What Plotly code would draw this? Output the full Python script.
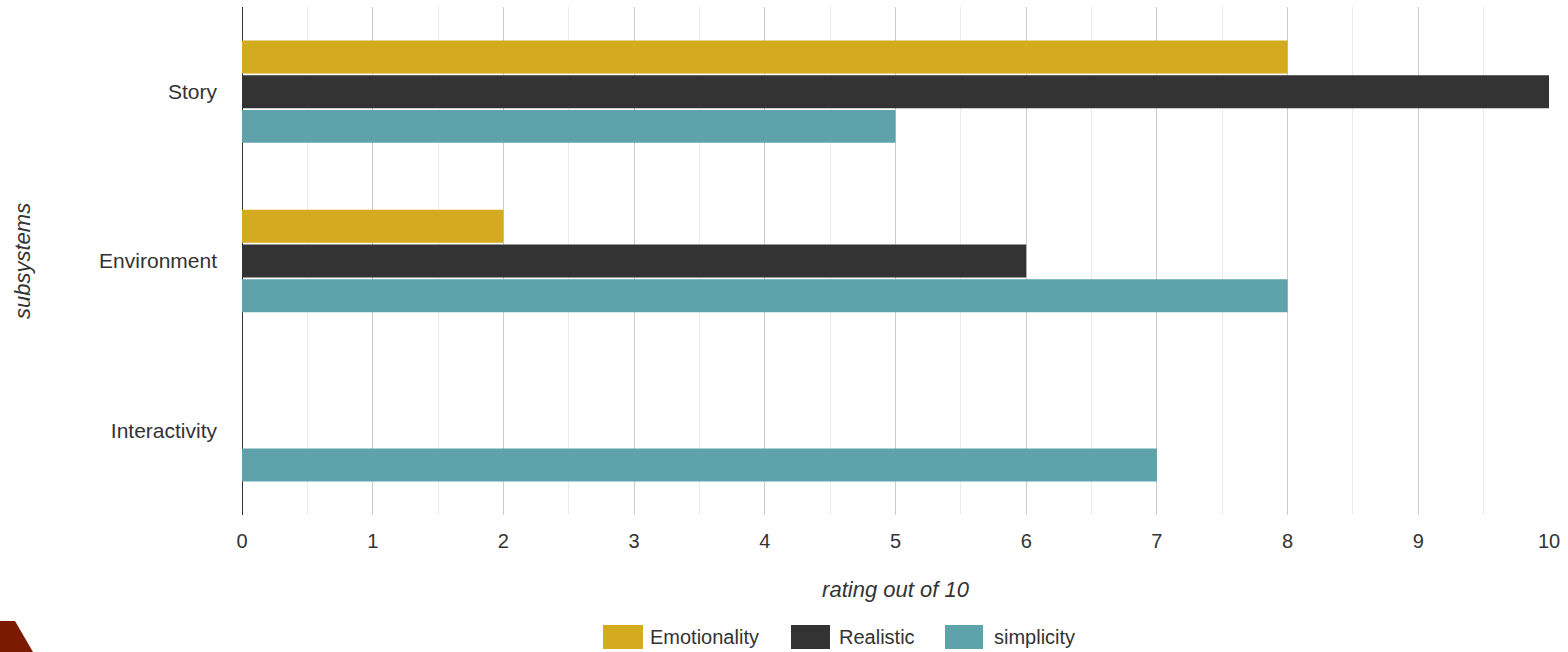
import plotly.graph_objects as go

categories = ["Story", "Environment", "Interactivity"]
emotionality = [8, 2, 0]
realistic = [10, 6, 0]
simplicity = [5, 8, 7]
series_names = ["Emotionality", "Realistic", "simplicity"]
colors = ["#D4AA1E", "#333333", "#5EA3AB"]
x_ticks = list(range(0, 11))

W, H = 1568, 652
L, R, T, B = 242, 19, 7, 137
PW, PH = W - L - R, H - T - B

def px(x):
    return (x - L) / PW

def py(y):
    return (H - B - y) / PH

FONT = "Liberation Sans, Arial, sans-serif"
TXT = "#333333"

fig = go.Figure()
for name, vals, col in zip(series_names, [emotionality, realistic, simplicity], colors):
    fig.add_trace(go.Bar(
        y=categories, x=vals, name=name, orientation="h",
        marker=dict(color=col, line=dict(width=0)), showlegend=False,
    ))

fig.update_layout(
    width=W, height=H,
    margin=dict(l=L, r=R, t=T, b=B),
    paper_bgcolor="white", plot_bgcolor="white",
    barmode="group", bargap=0.385, bargroupgap=0.05,
    font=dict(family=FONT, size=21, color=TXT),
    xaxis=dict(
        range=[0, 10], tickvals=x_ticks, ticktext=[str(t) for t in x_ticks],
        showgrid=True, gridcolor="#CCCCCC", gridwidth=1,
        minor=dict(dtick=0.5, showgrid=True, gridcolor="#EBEBEB", gridwidth=1),
        zeroline=True, zerolinecolor="#333333", zerolinewidth=1,
        ticks="", ticklabelstandoff=12,
        tickfont=dict(size=20, color=TXT),
        title=dict(text="<i>rating out of 10</i>", font=dict(size=22, color=TXT), standoff=30),
        fixedrange=True,
    ),
    yaxis=dict(
        categoryorder="array", categoryarray=categories,
        range=[2.5, -0.5], showgrid=False, zeroline=False,
        ticks="", ticklabelstandoff=24,
        tickfont=dict(size=21, color=TXT),
        fixedrange=True,
    ),
)

# Custom legend (swatches + labels)
legend_items = [(603, 643, 648), (791, 830, 837), (945, 983, 992)]
shapes = []
annotations = []
for (x0, x1, tx), name, col in zip(legend_items, series_names, colors):
    shapes.append(dict(type="rect", xref="paper", yref="paper",
                       x0=px(x0), x1=px(x1), y0=py(649), y1=py(625),
                       fillcolor=col, line=dict(width=0)))
    annotations.append(dict(xref="paper", yref="paper", x=px(tx), y=py(637),
                            xanchor="left", yanchor="middle", showarrow=False,
                            text=name, font=dict(size=20, color=TXT, family=FONT)))

# Y axis title
annotations.append(dict(xref="paper", yref="paper", x=px(22), y=py(261),
                        xanchor="center", yanchor="middle", showarrow=False,
                        textangle=-90, text="<i>subsystems</i>",
                        font=dict(size=22, color=TXT, family=FONT)))

# Decorative corner shape
shapes.append(dict(type="path", xref="paper", yref="paper",
                   path=f"M {px(0)},{py(621)} L {px(15)},{py(621)} L {px(33)},{py(652)} L {px(0)},{py(652)} Z",
                   fillcolor="#7B1A00", line=dict(width=0), layer="above"))

fig.update_layout(shapes=shapes, annotations=annotations)
fig.write_html("out.html")
